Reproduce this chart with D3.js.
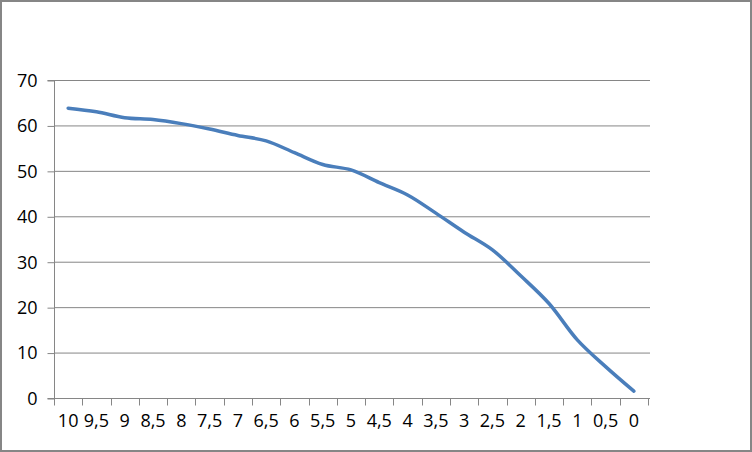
<!DOCTYPE html>
<html><head><meta charset="utf-8">
<script src="https://cdn.jsdelivr.net/npm/d3@7"></script>
<style>body{margin:0;background:#fff}svg{display:block}</style>
</head><body>
<svg id="c" width="752" height="452"></svg>
<script>
const categories = ["10","9,5","9","8,5","8","7,5","7","6,5","6","5,5","5","4,5","4","3,5","3","2,5","2","1,5","1","0,5","0"];
const values = [63.8,63.0,61.7,61.3,60.4,59.2,57.8,56.6,54.0,51.4,50.2,47.4,44.7,40.7,36.5,32.6,26.9,20.8,12.8,6.9,1.5];
const yTicks = [0,10,20,30,40,50,60,70];

const svg = d3.select("#c");
const font = "'Open Sans', sans-serif";
const grey = "#868686";
svg.append("rect").attr("x",1).attr("y",1).attr("width",750).attr("height",450)
  .attr("fill","#fff").attr("stroke",grey).attr("stroke-width",2);

const L=54, R=648, T=80, B=398;
const x = d3.scaleBand().domain(categories).range([L,R]);
const y = d3.scaleLinear().domain([0,70]).range([B,T]);

// gridlines
svg.append("g").selectAll("line").data(yTicks).join("line")
  .attr("x1",L).attr("x2",R+2).attr("y1",d=>y(d)+0.5).attr("y2",d=>y(d)+0.5)
  .attr("stroke",grey).attr("stroke-width",1);

// y axis
const ya = svg.append("g").attr("transform",`translate(${L+0.5},0)`)
  .call(d3.axisLeft(y).tickValues(yTicks).tickSize(7).tickPadding(10).tickFormat(d3.format("d")));
ya.select(".domain").attr("stroke",grey).attr("d",`M-7,${T+0.5}H0V${B+0.5}H-7`);
ya.selectAll(".tick line").attr("stroke",grey).attr("transform","translate(0,0.5)");
ya.selectAll(".tick text").attr("font-family",font).attr("font-size",18).attr("fill","#000").attr("dy","0.35em").attr("y",0);

// x axis
const xa = svg.append("g").attr("transform",`translate(0,${B+0.5})`)
  .call(d3.axisBottom(x).tickSize(0).tickPadding(16));
xa.select(".domain").attr("stroke",grey).attr("d",`M${L},0H${R+1}`);
xa.selectAll(".tick text").attr("font-family",font).attr("font-size",18).attr("fill","#000");
// category boundary ticks
const bounds = categories.map(c=>x(c)).concat([R]);
xa.append("g").selectAll("line").data(bounds).join("line")
  .attr("x1",d=>Math.round(d)+0.5).attr("x2",d=>Math.round(d)+0.5).attr("y1",0).attr("y2",7)
  .attr("stroke",grey);

// line
const line = d3.line().x((d,i)=>x(categories[i])+x.bandwidth()/2).y(d=>y(d)).curve(d3.curveCatmullRom.alpha(0.5));
svg.append("path").datum(values).attr("d",line).attr("fill","none")
  .attr("stroke","#4a7ebb").attr("stroke-width",3.5).attr("stroke-linecap","round").attr("stroke-linejoin","round");
</script>
</body></html>
